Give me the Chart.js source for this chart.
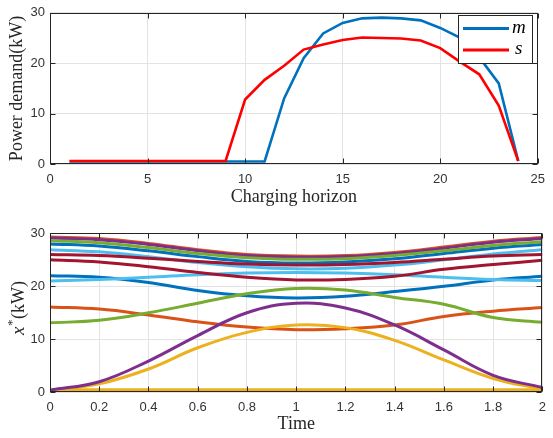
<!DOCTYPE html>
<html><head><meta charset="utf-8">
<script src="https://cdn.jsdelivr.net/npm/chart.js@4.4.1/dist/chart.umd.min.js"></script>
<style>
html,body{margin:0;padding:0;background:#fff;width:553px;height:438px;overflow:hidden}
canvas{position:absolute;left:0}
#c1{top:0}
#c2{top:220px}
</style></head>
<body>
<canvas id="c1" width="553" height="215"></canvas>
<canvas id="c2" width="553" height="218"></canvas>
<script>
// ---- top panel data ----
const hours = [1,2,3,4,5,6,7,8,9,10,11,12,13,14,15,16,17,18,19,20,21,22,23,24];
const demandM = [0.5,0.5,0.5,0.5,0.5,0.5,0.5,0.5,0.5,0.5,0.5,13.0,21.0,25.9,28.0,28.9,29.05,28.9,28.5,27.0,25.1,21.2,16.0,0.6];
const demandS = [0.6,0.6,0.6,0.6,0.6,0.6,0.6,0.6,0.6,12.8,16.7,19.5,22.7,23.7,24.6,25.1,25.0,24.9,24.5,23.0,20.3,17.8,11.6,0.6];
const seriesTopLabels = ['m','s'];
const topXTicks = [0,5,10,15,20,25];
const topYTicks = [0,10,20,30];

// ---- bottom panel data ----
const time = [0,0.2,0.4,0.6,0.8,1.0,1.2,1.4,1.6,1.8,2.0];
const timeTicks = [0,0.2,0.4,0.6,0.8,1,1.2,1.4,1.6,1.8,2];
const blue1      = [28.0,27.6,26.7,25.6,24.7,24.4,24.6,25.2,26.2,27.2,27.9];
const orange1    = [29.3,29.0,28.1,26.9,26.0,25.7,25.8,26.4,27.4,28.5,29.2];
const yellow1    = [0.5,0.5,0.5,0.5,0.5,0.5,0.5,0.5,0.5,0.5,0.5];
const purple1    = [29.1,28.8,27.9,26.7,25.8,25.5,25.6,26.2,27.2,28.3,29.0];
const green1     = [28.6,28.2,27.3,26.2,25.4,25.1,25.2,25.8,26.7,27.7,28.4];
const lightblue1 = [26.9,26.5,25.6,24.5,23.7,23.3,23.4,24.0,25.0,26.1,26.9];
const darkred1   = [26.0,25.8,25.3,24.7,24.2,24.0,24.1,24.5,25.1,25.7,26.0];
const blue2      = [22.0,21.7,20.7,19.2,18.2,17.8,18.1,19.0,20.0,21.2,21.9];
const orange2    = [16.1,15.7,14.6,13.3,12.3,11.8,12.0,12.7,14.3,15.3,16.0];
const yellow2    = [0.3,1.6,4.4,8.4,11.3,12.7,12.2,9.8,6.1,2.6,0.6];
const purple2    = [0.4,2.0,5.9,10.7,15.0,16.8,15.9,12.7,8.0,3.2,0.9];
const green2     = [13.1,13.6,15.0,16.8,18.6,19.6,19.3,17.9,16.6,14.1,13.2];
const lightblue2 = [21.0,21.3,21.7,22.2,22.5,22.6,22.5,22.2,21.7,21.3,21.1];
const darkred2   = [25.0,24.6,23.7,22.6,21.7,21.2,21.3,21.9,23.2,24.1,24.9];
const bottomSeries = [blue1,orange1,yellow1,purple1,green1,lightblue1,darkred1,blue2,orange2,yellow2,purple2,green2,lightblue2,darkred2];
const matlabColors = ['#0072BD','#D95319','#EDB120','#7E2F8E','#77AC30','#4DBEEE','#A2142F'];

const TICK_FONT = {family:'Liberation Sans, Arial, sans-serif', size:13};
const TICK_COLOR = '#333333';
const SERIF = 'Liberation Serif, Times New Roman, serif';
const GRID = '#e3e3e3';

const framePlugin = {
  id:'frame',
  afterDraw(chart){
    const {ctx, chartArea:a, scales} = chart;
    ctx.save();
    ctx.strokeStyle = '#262626';
    ctx.lineWidth = 1;
    const L = Math.round(a.left)+0.5, R = Math.round(a.right)-0.5, T = Math.round(a.top)+0.5, B = Math.round(a.bottom)-0.5;
    ctx.strokeRect(L, T, R-L, B-T);
    ctx.beginPath();
    scales.x.ticks.forEach(t=>{
      const px = Math.round(scales.x.getPixelForValue(t.value))+0.5;
      ctx.moveTo(px,B); ctx.lineTo(px,B-5);
      ctx.moveTo(px,T); ctx.lineTo(px,T+5);
    });
    scales.y.ticks.forEach(t=>{
      const py = Math.round(scales.y.getPixelForValue(t.value))+0.5;
      ctx.moveTo(L,py); ctx.lineTo(L+5,py);
      ctx.moveTo(R,py); ctx.lineTo(R-5,py);
    });
    ctx.stroke();
    ctx.restore();
  }
};

const legendPlugin = {
  id:'boxLegend',
  afterDraw(chart){
    const {ctx} = chart;
    ctx.save();
    const x0=458.5, y0=15.5, w=74, h=48;
    ctx.fillStyle='#fff';
    ctx.fillRect(x0,y0,w,h);
    ctx.strokeStyle='#262626'; ctx.lineWidth=1;
    ctx.strokeRect(x0,y0,w,h);
    const rows=[28.5,50];
    const dsByLabel = {};
    chart.data.datasets.forEach(d=>dsByLabel[d.label]=d);
    seriesTopLabels.forEach((lab,i)=>{
      const d = dsByLabel[lab];
      ctx.strokeStyle=d.borderColor; ctx.lineWidth=3;
      ctx.beginPath(); ctx.moveTo(463,rows[i]); ctx.lineTo(509,rows[i]); ctx.stroke();
      ctx.fillStyle='#000';
      ctx.font='italic 19px '+SERIF;
      ctx.textBaseline='middle';
      ctx.textAlign='left';
      ctx.fillText(lab, i===0?512:515, rows[i]-1);
    });
    ctx.restore();
  }
};

const yTitlePlugin = {
  id:'yTitle',
  afterDraw(chart){
    const {ctx} = chart;
    ctx.save();
    ctx.translate(19, 88);
    ctx.rotate(-Math.PI/2);
    ctx.fillStyle='#262626';
    ctx.textBaseline='middle';
    const f1 = 'italic 19px '+SERIF, f2 = '13px '+SERIF, f3 = '18px '+SERIF;
    ctx.font=f1; const w1 = ctx.measureText('x').width;
    ctx.font=f2; const w2 = ctx.measureText('*').width;
    ctx.font=f3; const w3 = ctx.measureText('(kW)').width;
    let x = -(w1+w2+w3+1)/2;
    ctx.textAlign='left';
    ctx.font=f1; ctx.fillText('x', x, 0); x+=w1+0.5;
    ctx.font=f2; ctx.fillText('*', x, -6); x+=w2+0.5;
    ctx.font=f3; ctx.fillText('(kW)', x, 0);
    ctx.restore();
  }
};

function yFit(s){ s.width = 50; }
function numLabel(v){ return String(Math.round(v*10)/10); }

// ---- top chart ----
new Chart(document.getElementById('c1'), {
  type:'line',
  data:{
    datasets:[
      {label:seriesTopLabels[0], data:hours.map((h,i)=>({x:h,y:demandM[i]})), borderColor:'#0072BD', borderWidth:2.6, pointRadius:0, tension:0, fill:false, order:2},
      {label:seriesTopLabels[1], data:hours.map((h,i)=>({x:h,y:demandS[i]})), borderColor:'#FF0000', borderWidth:2.6, pointRadius:0, tension:0, fill:false, order:1}
    ]
  },
  options:{
    responsive:false, animation:false, devicePixelRatio:1,
    layout:{padding:{left:0,right:9,top:6,bottom:0}},
    plugins:{legend:{display:false}, tooltip:{enabled:false}},
    scales:{
      x:{type:'linear', min:0, max:25,
        afterBuildTicks(s){ s.ticks = topXTicks.map(v=>({value:v})); },
        afterFit(s){ s.height = 51; },
        grid:{color:GRID, drawTicks:false}, border:{display:false},
        ticks:{font:TICK_FONT, color:TICK_COLOR, padding:8, maxRotation:0, autoSkip:false, callback:numLabel},
        title:{display:true, text:'Charging horizon', font:{family:SERIF, size:18}, color:'#262626', padding:{top:0,bottom:7}}
      },
      y:{type:'linear', min:0, max:30,
        afterBuildTicks(s){ s.ticks = topYTicks.map(v=>({value:v})); },
        afterFit:yFit,
        grid:{color:GRID, drawTicks:false}, border:{display:false},
        ticks:{font:TICK_FONT, color:TICK_COLOR, padding:5, callback:numLabel},
        title:{display:true, text:'Power demand(kW)', font:{family:SERIF, size:18}, color:'#262626', padding:{top:6,bottom:0}}
      }
    }
  },
  plugins:[framePlugin, legendPlugin]
});

// ---- bottom chart ----
new Chart(document.getElementById('c2'), {
  type:'line',
  data:{
    datasets: bottomSeries.map((arr,i)=>({
      label:'x'+(i+1),
      data: time.map((t,j)=>({x:t,y:arr[j]})),
      borderColor: matlabColors[i%7],
      borderWidth:3, pointRadius:0, tension:0.4, fill:false,
      order: bottomSeries.length - i
    }))
  },
  options:{
    responsive:false, animation:false, devicePixelRatio:1,
    layout:{padding:{left:0,right:9,top:13.3,bottom:0}},
    plugins:{legend:{display:false}, tooltip:{enabled:false}},
    scales:{
      x:{type:'linear', min:0, max:2,
        afterBuildTicks(s){ s.ticks = timeTicks.map(v=>({value:v})); },
        ticks:{font:TICK_FONT, color:TICK_COLOR, padding:7, maxRotation:0, autoSkip:false, callback:numLabel},
        afterFit(s){ s.height = 45.7; },
        grid:{color:GRID, drawTicks:false}, border:{display:false},
        title:{display:true, text:'Time', font:{family:SERIF, size:18}, color:'#262626', padding:{top:0,bottom:3}}
      },
      y:{type:'linear', min:0, max:30,
        afterBuildTicks(s){ s.ticks = topYTicks.map(v=>({value:v})); },
        ticks:{font:TICK_FONT, color:TICK_COLOR, padding:5, callback:numLabel},
        afterFit:yFit,
        grid:{color:GRID, drawTicks:false}, border:{display:false}
      }
    }
  },
  plugins:[framePlugin, yTitlePlugin]
});
</script>
</body></html>
